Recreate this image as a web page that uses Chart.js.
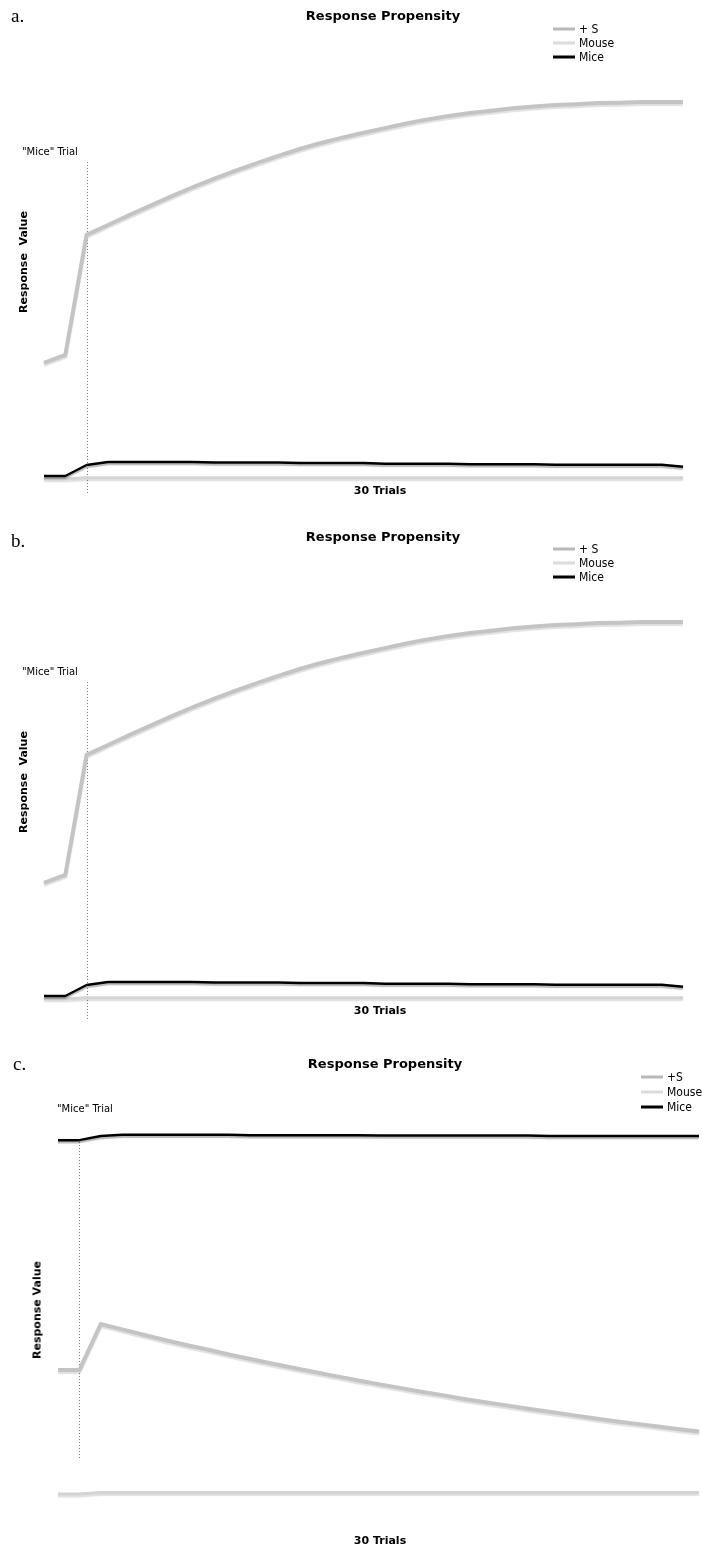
<!DOCTYPE html>
<html><head><meta charset="utf-8">
<script src="https://cdn.jsdelivr.net/npm/chart.js@4.4.1/dist/chart.umd.min.js"></script>
<style>
html,body{margin:0;padding:0;background:#fff;}
body{width:702px;height:1548px;position:relative;overflow:hidden;font-family:"DejaVu Sans",Verdana,sans-serif;color:#000;}
canvas{position:absolute;left:0;}
.t{position:absolute;white-space:pre;line-height:1;}
.cc{transform:translate(-50%,-50%);}
.lc{transform:translate(0,-50%);}
.rot{transform:translate(-50%,-50%) rotate(-90deg);}
.plab{font-family:"Liberation Serif","DejaVu Serif",serif;font-size:19px;}
.title{font-weight:bold;font-size:13px;}
.axt{font-weight:bold;font-size:11px;}
.mt{font-size:10px;}
.lg{font-family:"Liberation Sans Narrow","DejaVu Sans Condensed",sans-serif;font-size:12px;}
.sw{position:absolute;height:3px;transform:translate(0,-50%);}
</style>
</head><body>
<canvas id="ca" width="702" height="520" style="top:0"></canvas>
<canvas id="cb" width="702" height="520" style="top:520px"></canvas>
<canvas id="cc" width="702" height="508" style="top:1040px"></canvas>

<!-- panel a texts -->
<div class="t lc plab" style="left:11px;top:15px">a.</div>
<div class="t cc title" style="left:383px;top:15px">Response Propensity</div>
<div class="sw" style="left:553px;top:29px;width:22px;background:#b8b8b8"></div>
<div class="t lc lg" style="left:579px;top:29px">+ S</div>
<div class="sw" style="left:553px;top:43px;width:22px;background:#dcdcdc"></div>
<div class="t lc lg" style="left:579px;top:43px">Mouse</div>
<div class="sw" style="left:553px;top:57px;width:22px;background:#000"></div>
<div class="t lc lg" style="left:579px;top:57px">Mice</div>
<div class="t lc mt" style="left:22px;top:152px">"Mice" Trial</div>
<div class="t rot axt" style="left:23px;top:262px">Response  Value</div>
<div class="t cc axt" style="left:380px;top:490px">30 Trials</div>

<!-- panel b texts -->
<div class="t lc plab" style="left:11px;top:540px">b.</div>
<div class="t cc title" style="left:383px;top:536px">Response Propensity</div>
<div class="sw" style="left:553px;top:549px;width:22px;background:#b8b8b8"></div>
<div class="t lc lg" style="left:579px;top:549px">+ S</div>
<div class="sw" style="left:553px;top:563px;width:22px;background:#dcdcdc"></div>
<div class="t lc lg" style="left:579px;top:563px">Mouse</div>
<div class="sw" style="left:553px;top:577px;width:22px;background:#000"></div>
<div class="t lc lg" style="left:579px;top:577px">Mice</div>
<div class="t lc mt" style="left:22px;top:672px">"Mice" Trial</div>
<div class="t rot axt" style="left:23px;top:782px">Response  Value</div>
<div class="t cc axt" style="left:380px;top:1010px">30 Trials</div>

<!-- panel c texts -->
<div class="t lc plab" style="left:13px;top:1063px">c.</div>
<div class="t cc title" style="left:385px;top:1063px">Response Propensity</div>
<div class="sw" style="left:641px;top:1077px;width:22px;background:#b8b8b8"></div>
<div class="t lc lg" style="left:667px;top:1077px">+S</div>
<div class="sw" style="left:641px;top:1092px;width:22px;background:#dcdcdc"></div>
<div class="t lc lg" style="left:667px;top:1092px">Mouse</div>
<div class="sw" style="left:641px;top:1107px;width:22px;background:#000"></div>
<div class="t lc lg" style="left:667px;top:1107px">Mice</div>
<div class="t lc mt" style="left:57px;top:1109px">"Mice" Trial</div>
<div class="t rot axt" style="left:37px;top:1310px">Response Value</div>
<div class="t cc axt" style="left:380px;top:1540px">30 Trials</div>

<script>
// ---- data ----
const trials = [0,1,2,3,4,5,6,7,8,9,10,11,12,13,14,15,16,17,18,19,20,21,22,23,24,25,26,27,28,29,30];

const plusS_a = [30.8,32.9,64.5,67.1,69.7,72.2,74.7,77.1,79.3,81.4,83.4,85.3,87.1,88.7,90.1,91.4,92.6,93.8,94.9,95.8,96.6,97.2,97.8,98.3,98.7,98.9,99.2,99.3,99.5,99.5,99.5];
const mouse_a = [0.3,0.3,0.6,0.6,0.6,0.6,0.6,0.6,0.6,0.6,0.6,0.6,0.6,0.6,0.6,0.6,0.6,0.6,0.6,0.6,0.6,0.6,0.6,0.6,0.6,0.6,0.6,0.6,0.6,0.6,0.6];
const mice_a  = [1.05,1.05,3.95,4.74,4.74,4.74,4.74,4.74,4.6,4.6,4.6,4.6,4.45,4.45,4.45,4.45,4.3,4.3,4.3,4.3,4.15,4.15,4.15,4.15,4.0,4.0,4.0,4.0,4.0,4.0,3.5];

const plusS_b = [30.8,32.9,64.5,67.1,69.7,72.2,74.7,77.1,79.3,81.4,83.4,85.3,87.1,88.7,90.1,91.4,92.6,93.8,94.9,95.8,96.6,97.2,97.8,98.3,98.7,98.9,99.2,99.3,99.5,99.5,99.5];
const mouse_b = [0.3,0.3,0.6,0.6,0.6,0.6,0.6,0.6,0.6,0.6,0.6,0.6,0.6,0.6,0.6,0.6,0.6,0.6,0.6,0.6,0.6,0.6,0.6,0.6,0.6,0.6,0.6,0.6,0.6,0.6,0.6];
const mice_b  = [1.05,1.05,3.95,4.74,4.74,4.74,4.74,4.74,4.6,4.6,4.6,4.6,4.45,4.45,4.45,4.45,4.3,4.3,4.3,4.3,4.15,4.15,4.15,4.15,4.0,4.0,4.0,4.0,4.0,4.0,3.5];

const plusS_c = [34.2,34.2,46.3,44.9,43.5,42.1,40.8,39.6,38.3,37.1,35.9,34.8,33.7,32.6,31.5,30.5,29.5,28.5,27.6,26.6,25.7,24.9,24.0,23.2,22.4,21.6,20.8,20.1,19.4,18.7,18.0];
const mouse_c = [1.6,1.6,2.0,2.0,2.0,2.0,2.0,2.0,2.0,2.0,2.0,2.0,2.0,2.0,2.0,2.0,2.0,2.0,2.0,2.0,2.0,2.0,2.0,2.0,2.0,2.0,2.0,2.0,2.0,2.0,2.0];
const mice_c  = [94.7,94.7,95.8,96.1,96.1,96.1,96.1,96.1,96.1,96.0,96.0,96.0,96.0,96.0,96.0,95.9,95.9,95.9,95.9,95.9,95.9,95.9,95.9,95.8,95.8,95.8,95.8,95.8,95.8,95.8,95.8];

const seriesNames_ab = ['+ S','Mouse','Mice'];
const seriesNames_c = ['+S','Mouse','Mice'];

// "Mice" trial marker index
const miceTrial_ab = 2;
const miceTrial_c = 1;

// ---- plugins ----
const markerPlugin = {
  id:'marker',
  beforeDatasetsDraw(chart, args, o){
    const ctx = chart.ctx, xs = chart.scales.x, ys = chart.scales.y;
    const x = Math.round(xs.getPixelForValue(o.index)) + 0.5;
    ctx.save();
    ctx.strokeStyle = '#7a7a7a';
    ctx.lineWidth = 1;
    ctx.setLineDash([1,2]);
    ctx.beginPath();
    ctx.moveTo(x, ys.getPixelForValue(o.top));
    ctx.lineTo(x, ys.getPixelForValue(o.bottom));
    ctx.stroke();
    ctx.restore();
  }
};
const shadowPlugin = {
  id:'lineShadow',
  beforeDatasetDraw(chart, args){
    const ctx = chart.ctx;
    ctx.save();
    ctx.shadowColor = args.index === 2 ? 'rgba(0,0,0,0.28)' : 'rgba(0,0,0,0.12)';
    ctx.shadowOffsetY = 2;
    ctx.shadowBlur = 1;
  },
  afterDatasetDraw(chart){ chart.ctx.restore(); }
};

function makePanel(id, names, plus, mouse, mice, pad, marker){
  return new Chart(document.getElementById(id), {
    type:'line',
    data:{labels:trials, datasets:[
      {label:names[0], data:plus,  borderColor:'#c4c4c4', borderWidth:4,   order:1},
      {label:names[1], data:mouse, borderColor:'#d4d4d4', borderWidth:3,   order:2},
      {label:names[2], data:mice,  borderColor:'#000000', borderWidth:2.5, order:0}
    ]},
    options:{
      responsive:false, animation:false, devicePixelRatio:1,
      layout:{padding:pad},
      elements:{point:{radius:0}, line:{tension:0, fill:false, borderJoinStyle:'round'}},
      datasets:{line:{clip:false}},
      plugins:{legend:{display:false}, tooltip:{enabled:false}, title:{display:false}, marker:marker},
      scales:{
        x:{type:'category', display:false, offset:false},
        y:{display:false, min:0, max:100}
      }
    },
    plugins:[markerPlugin, shadowPlugin]
  });
}

makePanel('ca', seriesNames_ab, plusS_a, mouse_a, mice_a, {left:44,right:19,top:100,bottom:40}, {index:miceTrial_ab, top:83.7, bottom:-3.9});
makePanel('cb', seriesNames_ab, plusS_b, mouse_b, mice_b, {left:44,right:19,top:100,bottom:40}, {index:miceTrial_ab, top:83.7, bottom:-5.3});
makePanel('cc', seriesNames_c, plusS_c, mouse_c, mice_c, {left:58,right:3,top:80,bottom:48}, {index:miceTrial_c, top:94.2, bottom:10.5});
</script>
</body></html>
